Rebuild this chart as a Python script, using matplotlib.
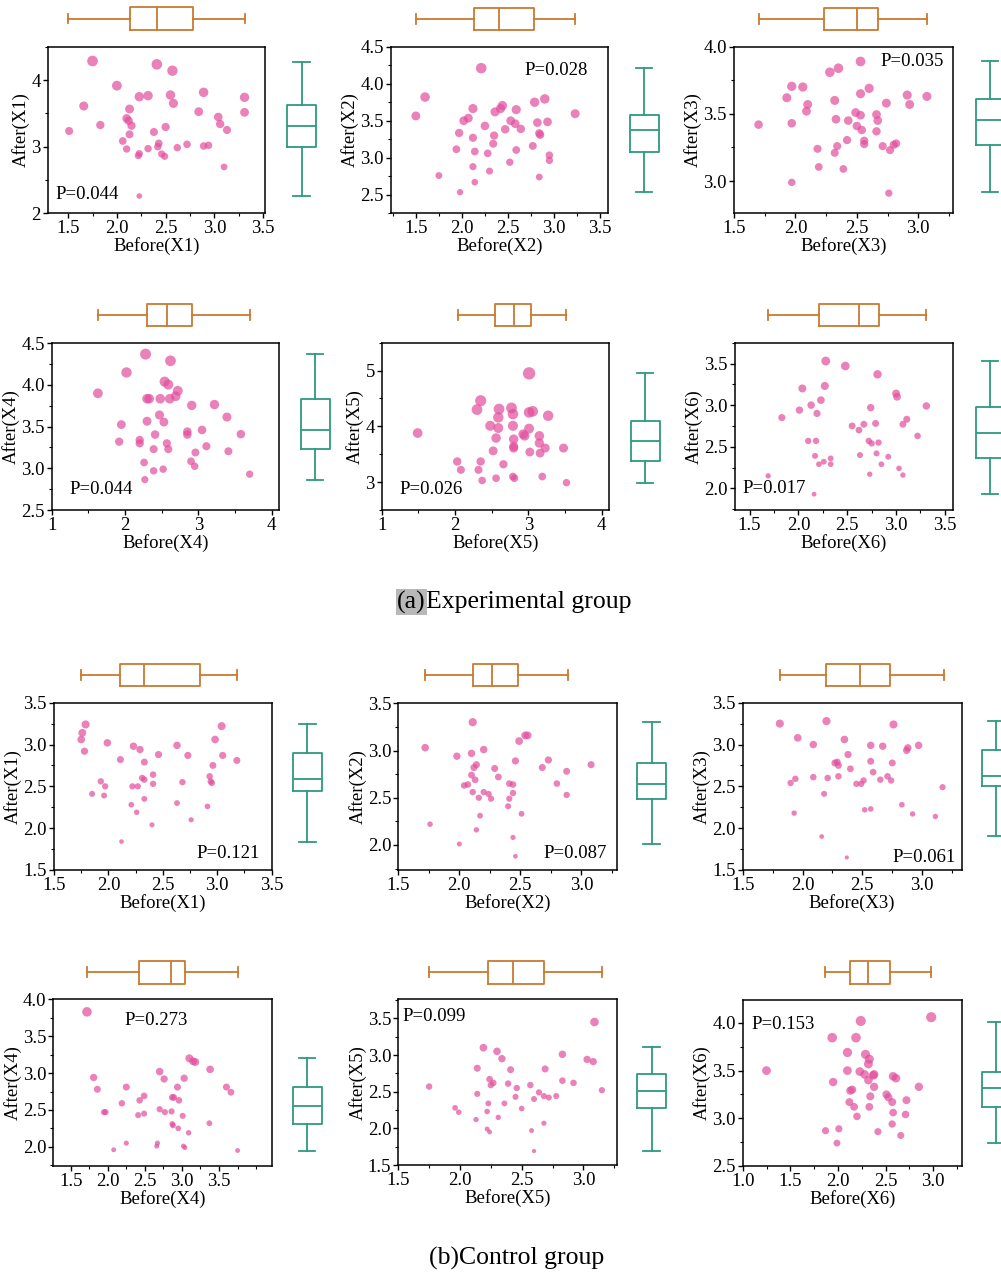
import matplotlib
matplotlib.use('Agg')
import matplotlib.pyplot as plt
from matplotlib.text import Annotation
from matplotlib.ticker import FixedLocator, MultipleLocator, FormatStrFormatter

plt.rcParams['font.family'] = ['Liberation Serif', 'DejaVu Serif']

# ------------------------------------------------------------------ data
# Experimental group
exp_x1_before = [1.75, 2.41, 2.57, 2.00, 2.23, 2.32, 2.55, 2.89, 3.31, 1.66, 2.58, 2.13, 2.84, 3.31, 1.51, 1.83, 2.10, 2.12, 2.15, 2.13,
                 2.38, 2.50, 3.04, 3.06, 3.13, 2.06, 2.10, 2.32, 2.43, 2.42, 2.23, 2.22, 2.46, 2.49, 2.62, 2.72, 2.89, 2.94, 3.10, 2.23]
exp_x1_after = [4.285, 4.235, 4.14, 3.915, 3.75, 3.765, 3.775, 3.815, 3.74, 3.61, 3.65, 3.565, 3.525, 3.515, 3.235, 3.325, 3.425, 3.39, 3.315, 3.185,
                3.22, 3.295, 3.445, 3.34, 3.25, 3.085, 2.965, 2.97, 3.05, 3.00, 2.895, 2.865, 2.89, 2.855, 2.985, 3.035, 3.01, 3.02, 2.695, 2.26]
exp_x1_before_box = [1.50, 2.13, 2.41, 2.78, 3.31]
exp_x1_after_box = [2.26, 3.00, 3.31, 3.625, 4.275]
exp_x1_p = "P=0.044"

exp_x2_before = [2.21, 1.60, 1.50, 2.12, 2.07, 2.02, 1.97, 1.94, 2.12, 2.14, 2.12, 2.14, 1.98, 1.75, 2.25, 2.36, 2.44, 2.42, 2.35, 2.34,
                 2.28, 2.30, 2.47, 2.53, 2.58, 2.59, 2.64, 2.59, 2.52, 2.79, 2.90, 2.82, 2.93, 2.84, 2.85, 2.77, 2.95, 2.95, 2.84, 3.23]
exp_x2_after = [4.21, 3.82, 3.565, 3.665, 3.535, 3.50, 3.335, 3.115, 3.27, 3.085, 2.88, 2.67, 2.535, 2.76, 3.43, 3.62, 3.705, 3.665, 3.30, 3.19,
                3.06, 2.82, 3.385, 3.50, 3.46, 3.65, 3.39, 3.105, 2.94, 3.75, 3.795, 3.475, 3.485, 3.33, 3.31, 3.16, 3.035, 2.965, 2.74, 3.595]
exp_x2_before_box = [1.50, 2.13, 2.40, 2.78, 3.23]
exp_x2_after_box = [2.535, 3.075, 3.37, 3.58, 4.21]
exp_x2_p = "P=0.028"

exp_x3_before = [1.70, 1.93, 1.97, 2.06, 1.97, 1.97, 2.10, 2.09, 2.18, 2.19, 2.28, 2.35, 2.32, 2.33, 2.34, 2.32, 2.39, 2.43, 2.42, 2.49,
                 2.50, 2.53, 2.54, 2.53, 2.53, 2.60, 2.56, 2.56, 2.66, 2.67, 2.66, 2.71, 2.74, 2.77, 2.80, 2.82, 2.76, 2.91, 2.93, 3.07]
exp_x3_after = [3.42, 3.62, 3.705, 3.70, 3.43, 2.99, 3.57, 3.52, 3.24, 3.105, 3.81, 3.84, 3.60, 3.46, 3.26, 3.21, 3.09, 3.45, 3.305, 3.51,
                3.41, 3.49, 3.38, 3.89, 3.65, 3.69, 3.30, 3.275, 3.495, 3.45, 3.37, 3.26, 3.58, 3.23, 3.27, 3.28, 2.91, 3.64, 3.57, 3.63]
exp_x3_before_box = [1.70, 2.23, 2.50, 2.67, 3.07]
exp_x3_after_box = [2.92, 3.27, 3.455, 3.61, 3.89]
exp_x3_p = "P=0.035"

exp_x4_before = [1.63, 2.02, 2.28, 2.62, 2.54, 2.59, 2.72, 2.69, 2.30, 2.33, 2.48, 2.61, 2.47, 2.30, 2.53, 1.95, 1.92, 2.20, 2.20, 2.41,
                 2.39, 2.57, 2.59, 2.85, 2.85, 2.91, 3.05, 3.11, 2.96, 2.90, 2.95, 3.22, 3.39, 3.58, 3.41, 3.70, 2.26, 2.39, 2.52, 2.27]
exp_x4_after = [3.90, 4.15, 4.37, 4.29, 4.04, 4.005, 3.93, 3.865, 3.835, 3.835, 3.835, 3.835, 3.64, 3.565, 3.555, 3.525, 3.32, 3.34, 3.30, 3.405,
                3.23, 3.30, 3.23, 3.44, 3.405, 3.755, 3.46, 3.265, 3.19, 3.085, 3.025, 3.765, 3.615, 3.41, 3.205, 2.93, 3.07, 2.97, 2.99, 2.865]
exp_x4_before_box = [1.63, 2.30, 2.57, 2.91, 3.70]
exp_x4_after_box = [2.86, 3.23, 3.46, 3.835, 4.37]
exp_x4_p = "P=0.044"

exp_x5_before = [1.49, 3.01, 2.35, 2.30, 2.48, 2.59, 2.79, 3.01, 2.56, 2.80, 2.93, 2.95, 3.15, 3.15, 3.16, 3.23, 2.80, 2.80, 3.02, 2.52,
                 3.48, 2.03, 2.08, 2.35, 2.32, 2.66, 2.37, 2.56, 2.79, 2.81, 3.19, 3.52, 2.60, 2.59, 2.77, 2.79, 3.01, 3.06, 3.27]
exp_x5_after = [3.88, 4.95, 4.46, 4.30, 4.01, 3.97, 4.01, 3.96, 3.79, 3.77, 3.86, 3.83, 3.83, 3.70, 3.52, 3.61, 3.64, 3.61, 3.54, 3.56,
                3.61, 3.37, 3.22, 3.37, 3.22, 3.32, 3.03, 3.07, 3.10, 3.07, 3.10, 2.99, 4.31, 4.16, 4.33, 4.22, 4.25, 4.27, 4.19]
exp_x5_before_box = [2.04, 2.54, 2.80, 3.04, 3.52]
exp_x5_after_box = [2.99, 3.37, 3.74, 4.10, 4.95]
exp_x5_p = "P=0.026"

exp_x6_before = [1.69, 1.83, 2.01, 2.04, 2.13, 2.23, 2.19, 2.27, 2.28, 2.48, 2.81, 2.10, 2.18, 2.17, 2.21, 2.26, 2.33, 2.33, 2.16, 2.55,
                 2.62, 2.67, 2.74, 2.79, 2.63, 2.72, 2.75, 2.82, 2.80, 2.73, 2.85, 2.92, 3.00, 3.01, 3.07, 3.11, 3.03, 3.07, 3.22, 3.31]
exp_x6_after = [2.15, 2.85, 2.94, 3.20, 3.00, 3.06, 2.90, 3.23, 3.53, 3.47, 3.37, 2.57, 2.57, 2.39, 2.29, 2.32, 2.36, 2.29, 1.93, 2.75,
                2.70, 2.77, 2.97, 2.78, 2.40, 2.57, 2.54, 2.55, 2.42, 2.17, 2.29, 2.38, 3.14, 3.10, 2.77, 2.83, 2.24, 2.16, 2.63, 2.99]
exp_x6_before_box = [1.69, 2.21, 2.62, 2.83, 3.31]
exp_x6_after_box = [1.93, 2.37, 2.66, 2.98, 3.53]
exp_x6_p = "P=0.017"

# Control group
ctl_x1_before = [1.79, 1.76, 1.75, 1.78, 1.99, 2.11, 2.23, 2.29, 2.33, 2.46, 2.63, 2.73, 3.04, 2.98, 3.05, 2.96, 3.18, 1.93, 1.97, 1.96,
                 1.85, 2.22, 2.27, 2.31, 2.33, 2.41, 2.41, 2.33, 2.21, 2.26, 2.40, 2.12, 2.63, 2.68, 2.76, 2.91, 2.93, 2.94, 2.95]
ctl_x1_after = [3.24, 3.14, 3.06, 2.92, 3.02, 2.82, 2.98, 2.94, 2.79, 2.88, 2.99, 2.87, 3.22, 3.06, 2.87, 2.75, 2.81, 2.56, 2.50, 2.39,
                2.41, 2.50, 2.50, 2.60, 2.58, 2.64, 2.53, 2.35, 2.28, 2.19, 2.04, 1.84, 2.30, 2.55, 2.10, 2.26, 2.62, 2.56, 2.54]
ctl_x1_before_box = [1.75, 2.11, 2.33, 2.84, 3.18]
ctl_x1_after_box = [1.83, 2.45, 2.59, 2.90, 3.24]
ctl_x1_p = "P=0.121"

ctl_x2_before = [1.72, 1.76, 1.98, 2.00, 2.11, 2.10, 2.20, 2.14, 2.12, 2.10, 2.13, 2.04, 2.07, 2.11, 2.16, 2.20, 2.24, 2.26, 2.29, 2.32,
                 2.17, 2.14, 2.46, 2.49, 2.54, 2.56, 2.41, 2.44, 2.44, 2.41, 2.40, 2.51, 2.44, 2.46, 2.68, 2.73, 2.80, 2.88, 2.88, 3.08]
ctl_x2_after = [3.03, 2.22, 2.94, 2.01, 3.30, 2.97, 3.01, 2.85, 2.82, 2.74, 2.69, 2.63, 2.64, 2.56, 2.50, 2.56, 2.54, 2.49, 2.81, 2.72,
                2.31, 2.16, 2.89, 3.10, 3.16, 3.16, 2.65, 2.64, 2.55, 2.49, 2.41, 2.33, 2.08, 1.88, 2.82, 2.90, 2.65, 2.78, 2.53, 2.85]
ctl_x2_before_box = [1.72, 2.11, 2.27, 2.48, 2.89]
ctl_x2_after_box = [2.01, 2.49, 2.65, 2.87, 3.30]
ctl_x2_p = "P=0.087"

ctl_x3_before = [1.81, 1.96, 2.09, 2.20, 2.35, 2.57, 2.67, 2.76, 2.88, 2.87, 2.97, 2.38, 2.27, 2.29, 2.30, 2.40, 2.57, 2.75, 2.59, 1.90,
                 1.94, 2.09, 2.21, 2.30, 2.45, 2.49, 2.51, 2.65, 2.71, 2.74, 2.18, 1.93, 2.52, 2.57, 2.83, 2.92, 3.11, 3.17, 2.16, 2.37]
ctl_x3_after = [3.25, 3.08, 3.00, 3.28, 3.06, 2.99, 2.98, 3.24, 2.96, 2.93, 2.99, 2.88, 2.78, 2.79, 2.75, 2.71, 2.80, 2.78, 2.67, 2.54,
                2.59, 2.61, 2.60, 2.62, 2.53, 2.53, 2.57, 2.58, 2.62, 2.57, 2.41, 2.18, 2.22, 2.23, 2.28, 2.17, 2.14, 2.49, 1.90, 1.65]
ctl_x3_before_box = [1.81, 2.20, 2.48, 2.73, 3.18]
ctl_x3_after_box = [1.905, 2.51, 2.62, 2.94, 3.28]
ctl_x3_p = "P=0.061"

ctl_x4_before = [1.72, 1.81, 1.86, 1.95, 1.97, 2.08, 2.19, 2.25, 2.25, 2.43, 2.49, 2.41, 2.49, 2.66, 2.67, 2.70, 2.76, 2.70, 2.77, 2.86,
                 2.87, 2.89, 2.96, 2.94, 3.03, 2.87, 2.88, 2.95, 3.01, 3.02, 3.04, 3.09, 3.10, 3.15, 3.18, 3.38, 3.37, 3.60, 3.66, 3.75]
ctl_x4_after = [3.83, 2.94, 2.78, 2.47, 2.47, 1.96, 2.59, 2.81, 2.05, 2.63, 2.69, 2.43, 2.45, 2.01, 2.05, 3.02, 2.92, 2.51, 2.47, 2.48,
                2.67, 2.67, 2.63, 2.81, 2.93, 2.31, 2.29, 2.25, 2.42, 2.01, 1.99, 2.19, 3.20, 3.16, 3.15, 3.05, 2.32, 2.81, 2.74, 1.95]
ctl_x4_before_box = [1.72, 2.42, 2.85, 3.04, 3.75]
ctl_x4_after_box = [1.95, 2.31, 2.55, 2.81, 3.20]
ctl_x4_p = "P=0.273"

ctl_x5_before = [1.75, 1.96, 1.99, 2.13, 2.14, 2.14, 2.19, 2.30, 2.34, 2.41, 2.24, 2.27, 2.25, 2.23, 2.22, 2.22, 2.24, 2.31, 2.36, 2.39,
                 2.46, 2.45, 2.50, 2.57, 2.60, 2.64, 2.68, 2.72, 2.69, 2.58, 2.68, 2.60, 2.78, 2.83, 2.83, 2.92, 3.03, 3.08, 3.09, 3.15]
ctl_x5_after = [2.57, 2.28, 2.22, 2.12, 2.47, 2.82, 3.10, 3.05, 2.95, 2.80, 2.67, 2.62, 2.59, 2.34, 2.23, 1.99, 1.95, 2.15, 2.34, 2.61,
                2.55, 2.43, 2.27, 2.59, 2.40, 2.49, 2.44, 2.42, 2.81, 1.97, 2.07, 1.69, 2.44, 2.65, 3.01, 2.62, 2.94, 2.91, 3.45, 2.52]
ctl_x5_before_box = [1.75, 2.23, 2.43, 2.68, 3.15]
ctl_x5_after_box = [1.69, 2.28, 2.51, 2.74, 3.11]
ctl_x5_p = "P=0.099"

ctl_x6_before = [1.25, 1.94, 1.95, 1.87, 2.01, 1.99, 2.24, 2.19, 2.10, 2.29, 2.33, 2.32, 2.10, 2.23, 2.28, 2.37, 2.38, 2.32, 2.38, 2.13,
                 2.15, 2.12, 2.17, 2.20, 2.34, 2.33, 2.42, 2.51, 2.53, 2.57, 2.58, 2.57, 2.58, 2.61, 2.66, 2.71, 2.72, 2.85, 2.98]
ctl_x6_after = [3.50, 3.845, 3.38, 2.87, 2.89, 2.74, 4.02, 3.845, 3.69, 3.67, 3.62, 3.57, 3.50, 3.49, 3.46, 3.45, 3.46, 3.40, 3.33, 3.29,
                3.30, 3.17, 3.12, 3.02, 3.23, 3.12, 2.86, 3.25, 3.22, 3.17, 3.06, 2.94, 3.44, 3.42, 2.82, 3.04, 3.19, 3.33, 4.06]
ctl_x6_before_box = [1.86, 2.13, 2.32, 2.55, 2.98]
ctl_x6_after_box = [2.74, 3.12, 3.32, 3.49, 4.01]
ctl_x6_p = "P=0.153"

var_names = ["X1", "X2", "X3", "X4", "X5", "X6"]
captions = ["(a)", "Experimental group", "(b)Control group"]

# tick values per panel (row-major: exp X1..X6, ctl X1..X6)
x_ticks = [[1.5, 2.0, 2.5, 3.0, 3.5], [1.5, 2.0, 2.5, 3.0, 3.5], [1.5, 2.0, 2.5, 3.0],
           [1, 2, 3, 4], [1, 2, 3, 4], [1.5, 2.0, 2.5, 3.0, 3.5],
           [1.5, 2.0, 2.5, 3.0, 3.5], [1.5, 2.0, 2.5, 3.0], [1.5, 2.0, 2.5, 3.0],
           [1.5, 2.0, 2.5, 3.0, 3.5], [1.5, 2.0, 2.5, 3.0], [1.0, 1.5, 2.0, 2.5, 3.0]]
y_ticks = [[2, 3, 4], [2.5, 3.0, 3.5, 4.0, 4.5], [3.0, 3.5, 4.0],
           [2.5, 3.0, 3.5, 4.0, 4.5], [3, 4, 5], [2.0, 2.5, 3.0, 3.5],
           [1.5, 2.0, 2.5, 3.0, 3.5], [2.0, 2.5, 3.0, 3.5], [1.5, 2.0, 2.5, 3.0, 3.5],
           [2.0, 2.5, 3.0, 3.5, 4.0], [1.5, 2.0, 2.5, 3.0, 3.5], [2.5, 3.0, 3.5, 4.0]]

# ------------------------------------------------------------------ layout / style
W, H = 1001, 1274
PINK = '#E3509D'
ORANGE = '#C97A30'
TEAL = '#2E9A80'
FS = 13.5
CAP_FS = 18.5

panels = [
    (exp_x1_before, exp_x1_after, exp_x1_before_box, exp_x1_after_box, exp_x1_p),
    (exp_x2_before, exp_x2_after, exp_x2_before_box, exp_x2_after_box, exp_x2_p),
    (exp_x3_before, exp_x3_after, exp_x3_before_box, exp_x3_after_box, exp_x3_p),
    (exp_x4_before, exp_x4_after, exp_x4_before_box, exp_x4_after_box, exp_x4_p),
    (exp_x5_before, exp_x5_after, exp_x5_before_box, exp_x5_after_box, exp_x5_p),
    (exp_x6_before, exp_x6_after, exp_x6_before_box, exp_x6_after_box, exp_x6_p),
    (ctl_x1_before, ctl_x1_after, ctl_x1_before_box, ctl_x1_after_box, ctl_x1_p),
    (ctl_x2_before, ctl_x2_after, ctl_x2_before_box, ctl_x2_after_box, ctl_x2_p),
    (ctl_x3_before, ctl_x3_after, ctl_x3_before_box, ctl_x3_after_box, ctl_x3_p),
    (ctl_x4_before, ctl_x4_after, ctl_x4_before_box, ctl_x4_after_box, ctl_x4_p),
    (ctl_x5_before, ctl_x5_after, ctl_x5_before_box, ctl_x5_after_box, ctl_x5_p),
    (ctl_x6_before, ctl_x6_after, ctl_x6_before_box, ctl_x6_after_box, ctl_x6_p),
]

# pixel frame (left, right, top, bottom), view limits, P-text position, top-box y, right-box x
layout = [
    ((47.7, 265.0, 46.7, 213.3), (1.29, 3.52), (2.0, 4.5), (0.035, 0.115), 18.5, 301.7),
    ((391.0, 608.3, 46.7, 213.3), (1.23, 3.59), (2.25, 4.5), (0.613, 0.856), 19.0, 644.0),
    ((734.0, 953.3, 46.7, 213.3), (1.5, 3.285), (2.76, 4.0), (0.666, 0.91), 19.0, 990.0),
    ((51.7, 279.0, 343.3, 510.0), (1.0, 4.1), (2.5, 4.5), (0.08, 0.12), 315.0, 315.0),
    ((381.7, 609.0, 342.7, 510.0), (1.0, 4.1), (2.5, 5.5), (0.08, 0.12), 315.0, 645.0),
    ((735.0, 952.7, 342.7, 510.0), (1.35, 3.58), (1.74, 3.75), (0.034, 0.126), 315.0, 990.0),
    ((54.0, 271.7, 702.7, 870.0), (1.5, 3.5), (1.5, 3.5), (0.655, 0.10), 675.0, 307.3),
    ((398.3, 616.7, 703.3, 870.0), (1.5, 3.29), (1.735, 3.5), (0.664, 0.096), 675.0, 651.7),
    ((742.7, 961.7, 702.7, 870.0), (1.5, 3.33), (1.5, 3.5), (0.683, 0.076), 675.0, 996.0),
    ((53.3, 271.7, 999.3, 1166.0), (1.266, 4.21), (1.74, 4.0), (0.324, 0.87), 972.3, 307.0),
    ((398.3, 616.7, 999.3, 1165.0), (1.5, 3.27), (1.5, 3.76), (0.02, 0.895), 972.3, 651.7),
    ((742.7, 961.7, 1000.0, 1166.0), (1.0, 3.3), (2.5, 4.24), (0.041, 0.855), 972.3, 996.0),
]


def frac_rect(l, r, t, b):
    return [l / W, 1 - b / H, (r - l) / W, (b - t) / H]


def draw_box(ax, stats, color, horizontal, width, capw):
    s = [dict(whislo=stats[0], q1=stats[1], med=stats[2], q3=stats[3], whishi=stats[4], fliers=[])]
    props = dict(color=color, linewidth=1.3)
    kw = dict(positions=[0], widths=width, showfliers=False, manage_ticks=False,
              boxprops=props, whiskerprops=props, capprops=props, medianprops=props, capwidths=capw)
    try:
        ax.bxp(s, orientation='horizontal' if horizontal else 'vertical', **kw)
    except TypeError:
        ax.bxp(s, vert=not horizontal, **kw)


fig = plt.figure(figsize=(W / 100, H / 100), dpi=100)

for i, ((bx, ay, bbox_b, bbox_a, ptxt), lay) in enumerate(zip(panels, layout)):
    (l, r, t, b), xl, yl, ppos, top_y, right_x = lay
    name = var_names[i % 6]
    ax = fig.add_axes(frac_rect(l, r, t, b))
    sizes = [(0.72 * 2.5 * v) ** 2 for v in ay]
    ax.scatter(bx, ay, s=sizes, color=PINK, alpha=0.72, linewidths=0, zorder=3)

    # marginal box plots
    axt = fig.add_axes(frac_rect(l, r, top_y - 15, top_y + 15), sharex=ax)
    draw_box(axt, bbox_b, ORANGE, True, 0.76, 0.33)
    axt.set_ylim(-0.5, 0.5)
    axt.axis('off')

    axr = fig.add_axes(frac_rect(right_x - 20, right_x + 20, t, b), sharey=ax)
    draw_box(axr, bbox_a, TEAL, False, 0.725, 0.42)
    axr.set_xlim(-0.5, 0.5)
    axr.axis('off')

    ax.set_xlim(*xl)
    ax.set_ylim(*yl)
    xt = x_ticks[i]
    yt = y_ticks[i]
    ax.xaxis.set_major_locator(FixedLocator(xt))
    ax.yaxis.set_major_locator(FixedLocator(yt))
    ax.xaxis.set_minor_locator(MultipleLocator((xt[1] - xt[0]) / 2))
    ax.yaxis.set_minor_locator(MultipleLocator((yt[1] - yt[0]) / 2))
    ax.xaxis.set_major_formatter(FormatStrFormatter('%d' if isinstance(xt[0], int) else '%.1f'))
    ax.yaxis.set_major_formatter(FormatStrFormatter('%d' if isinstance(yt[0], int) else '%.1f'))
    ax.tick_params(which='major', direction='out', length=3.5, width=1.0, labelsize=FS, pad=1.5)
    ax.tick_params(which='minor', direction='out', length=2.0, width=0.8)
    for sp in ax.spines.values():
        sp.set_linewidth(1.1)
    ax.set_xlabel(f"Before({name})", fontsize=FS, labelpad=0)
    ax.set_ylabel(f"After({name})", fontsize=FS, labelpad=1)
    ax.text(ppos[0], ppos[1], ptxt, transform=ax.transAxes, ha='left', va='center', fontsize=FS)

# group captions
t1 = fig.text(397 / W, 1 - 602 / H, captions[0], ha='left', va='center', fontsize=CAP_FS,
              bbox=dict(facecolor='#B8B8B8', edgecolor='none', pad=1.0))
ann = Annotation(captions[1], xy=(1, 0.5), xycoords=t1, ha='left', va='center',
                 fontsize=CAP_FS, annotation_clip=False)
fig.add_artist(ann)
fig.text(517 / W, 1 - 1258 / H, captions[2], ha='center', va='center', fontsize=CAP_FS)

fig.savefig('out.png', dpi=100)
